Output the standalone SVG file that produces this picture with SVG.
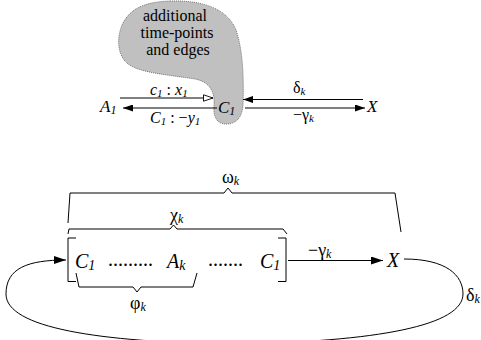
<svg xmlns="http://www.w3.org/2000/svg" width="481" height="340" viewBox="0 0 481 340">
<style>
text{font-family:"Liberation Serif",Tinos,"Noto Serif","FreeSerif","Nimbus Roman","Times",serif;fill:#000}
.it{font-style:italic}
.n{font-size:17px}
.l{font-size:16px}
.bn{font-size:20px}
.bl{font-size:18px}
.bt{font-size:16px}
.ln{fill:none;stroke:#000;stroke-width:1}
</style>
<defs>
<marker id="af" markerWidth="10" markerHeight="7" refX="10" refY="3.5" orient="auto" markerUnits="userSpaceOnUse"><path d="M0,0 L10,3.5 L0,7 z" fill="#000"/></marker>
<marker id="ao" markerWidth="11" markerHeight="8" refX="10" refY="4" orient="auto" markerUnits="userSpaceOnUse"><path d="M0.5,0.8 L10,4 L0.5,7.2 z" fill="#fff" stroke="#000" stroke-width="0.9"/></marker>
<marker id="ab" markerWidth="12" markerHeight="8" refX="12" refY="4" orient="auto" markerUnits="userSpaceOnUse"><path d="M0,0 L12,4 L0,8 z" fill="#000"/></marker>
</defs>
<g id="blob">
<path d="M170,1 C205,0 228,10 236,30 C243,50 244,80 243,105 C242,118 236,124 226,124 C216,124 213,115 214,105 C215,92 210,82 195,79 C170,75 140,73 128,64 C118,56 116,40 122,25 C130,8 145,2 170,1 Z" fill="#c0c0c0" stroke="#555" stroke-width="0.8" stroke-dasharray="1 1"/>
<text class="bt" x="175" y="21" text-anchor="middle">additional</text>
<text class="bt" x="177" y="38" text-anchor="middle">time-points</text>
<text class="bt" x="178" y="55" text-anchor="middle">and edges</text>
</g>
<g id="connectors">
<line class="ln" x1="120" y1="98" x2="213" y2="98" marker-end="url(#ao)"/>
<line class="ln" x1="217" y1="108" x2="123" y2="108" marker-end="url(#af)"/>
<line class="ln" x1="363" y1="99.5" x2="243" y2="99.5" marker-end="url(#af)"/>
<line class="ln" x1="245" y1="108" x2="365" y2="108" marker-end="url(#af)"/>
<line class="ln" x1="288" y1="260.5" x2="383" y2="260.5" marker-end="url(#ab)"/>
<path class="ln" d="M404,259 C446,259 463,275 463,294 C463,325 380,342 230,344 C100,342 6,328 6,294 C6,268 28,260 66,260" marker-end="url(#ab)"/>
<text class="l it" x="150" y="95">c<tspan font-size="11" dy="2">1</tspan><tspan dy="-2" font-style="normal"> : </tspan>x<tspan font-size="11" dy="2">1</tspan></text>
<text class="l it" x="150" y="123">C<tspan font-size="11" dy="2">1</tspan><tspan dy="-2" font-style="normal"> : −</tspan>y<tspan font-size="11" dy="2">1</tspan></text>
<text class="l" x="293" y="93">δ<tspan class="it" font-size="11" dy="2">k</tspan></text>
<text class="l" x="293" y="120">−γ<tspan class="it" font-size="11" dy="2">k</tspan></text>
<text class="bl" x="308" y="256">−γ<tspan class="it" font-size="12" dy="2">k</tspan></text>
<text class="bl" x="466" y="301">δ<tspan class="it" font-size="12" dy="2">k</tspan></text>
</g>
<g id="node-A1"><text class="n it" x="100" y="112">A<tspan font-size="12" dy="2">1</tspan></text></g>
<g id="node-C1"><text class="n it" x="218" y="113">C<tspan font-size="12" dy="2">1</tspan></text></g>
<g id="node-X"><text class="n it" x="367" y="112">X</text></g>
<g id="braces">
<path class="ln" d="M68,223 L70,193 L224,193 L228,188 L232,193 L395,193 L401,232"/>
<text class="bl" x="222" y="183">ω<tspan class="it" font-size="12" dy="2">k</tspan></text>
<path class="ln" d="M68,234 L69,229 L170,229 L173.5,225 L177,229 L283,229 L287,234"/>
<text class="bl" x="170" y="221">χ<tspan class="it" font-size="12" dy="2">k</tspan></text>
<path class="ln" d="M76,273 L79,287 L133,287 L137,292 L141,287 L193,287 L197,273"/>
<text class="bl" x="130" y="309">φ<tspan class="it" font-size="12" dy="2">k</tspan></text>
</g>
<g id="node-sequence">
<path class="ln" d="M76,238 L68,238 L68,281.5 L76,281.5"/>
<path class="ln" d="M278,238 L286,238 L286,281.5 L278,281.5"/>
<text class="bn it" x="75" y="268">C<tspan font-size="14" dy="2">1</tspan></text>
<text class="bn" x="108" y="266">.........</text>
<text class="bn it" x="167" y="268">A<tspan font-size="14" dy="2">k</tspan></text>
<text class="bn" x="208" y="266">.......</text>
<text class="bn it" x="260" y="268">C<tspan font-size="14" dy="2">1</tspan></text>
</g>
<g id="node-X2"><text class="bn it" x="387" y="267">X</text></g>
</svg>
